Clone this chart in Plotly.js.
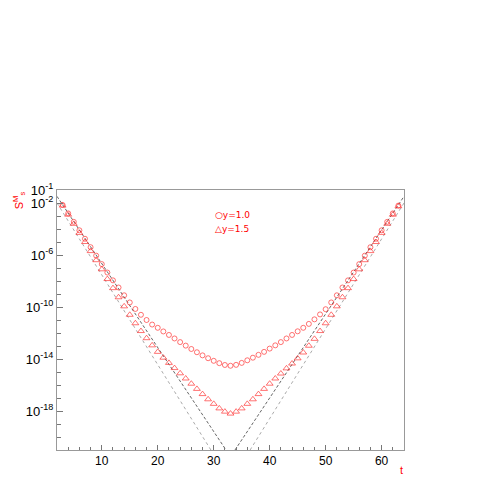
<!DOCTYPE html>
<html>
<head>
<meta charset="utf-8">
<script src="https://cdn.plot.ly/plotly-3.0.1.min.js"></script>
<style>
  html, body { margin: 0; padding: 0; background: #fff; }
  #chart { width: 485px; height: 485px; }
</style>
</head>
<body>
<div id="chart"></div>
<script>
// time slices
const tValues = [3, 4, 5, 6, 7, 8, 9, 10, 11, 12, 13, 14, 15, 16, 17, 18, 19, 20, 21, 22,
    23, 24, 25, 26, 27, 28, 29, 30, 31, 32, 33, 34, 35, 36, 37, 38, 39, 40, 41, 42,
    43, 44, 45, 46, 47, 48, 49, 50, 51, 52, 53, 54, 55, 56, 57, 58, 59, 60, 61, 62, 63];

// log10 of the correlator
const circleLog = [-2.15, -2.8, -3.45, -4.1, -4.75, -5.4, -6.05, -6.7, -7.35, -7.95,
    -8.5, -9.1, -9.65, -10.15, -10.6, -11.0, -11.35, -11.6, -11.88, -12.15,
    -12.42, -12.7, -12.97, -13.23, -13.48, -13.72, -13.94, -14.14, -14.32, -14.46,
    -14.52, -14.45, -14.3, -14.1, -13.9, -13.68, -13.45, -13.2, -12.95, -12.7,
    -12.42, -12.15, -11.87, -11.6, -11.3, -10.95, -10.57, -10.17, -9.65, -9.1,
    -8.5, -7.95, -7.35, -6.7, -6.05, -5.4, -4.75, -4.1, -3.45, -2.8, -2.2];

const triangleLog = [-2.2, -2.9, -3.6, -4.3, -5.0, -5.7, -6.4, -7.1, -7.85, -8.55,
    -9.25, -9.95, -10.6, -11.25, -11.85, -12.4, -12.95, -13.45, -13.9, -14.3,
    -14.7, -15.1, -15.5, -15.9, -16.3, -16.7, -17.1, -17.45, -17.8, -18.05,
    -18.2, -18.05, -17.8, -17.45, -17.1, -16.7, -16.3, -15.9, -15.5, -15.12,
    -14.72, -14.35, -13.95, -13.5, -12.98, -12.45, -11.85, -11.25, -10.6, -9.95,
    -9.25, -8.55, -7.85, -7.1, -6.4, -5.7, -5.0, -4.3, -3.6, -2.9, -2.25];

// single exponential guide lines (two branches each)
const dashT = [2, 32.2, null, 33.8, 64];
const dashLog = [-1.49, -21, null, -21, -1.49];
const dotT = [2, 29.5, null, 36.5, 64];
const dotLog = [-2.0, -21, null, -21, -2.0];

const yTickVals = [1e-1, 1e-2, 1e-6, 1e-10, 1e-14, 1e-18];
const yTickText = ['10<sup>-1</sup>', '10<sup>-2</sup>', '10<sup>-6</sup>',
    '10<sup>-10</sup>', '10<sup>-14</sup>', '10<sup>-18</sup>'];
const yDecades = [1e-2, 1e-3, 1e-4, 1e-5, 1e-6, 1e-7, 1e-8, 1e-9, 1e-10, 1e-11, 1e-12,
    1e-13, 1e-14, 1e-15, 1e-16, 1e-17, 1e-18, 1e-19, 1e-20];

const toLinear = arr => arr.map(v => v === null ? null : Math.pow(10, v));

const red = '#ff0000';
const markerRed = 'rgba(255,40,40,0.65)';

const traces = [
    {
        x: dotT, y: toLinear(dotLog),
        mode: 'lines', type: 'scatter', connectgaps: false,
        line: { color: '#aaaaaa', width: 1, dash: 'dot' },
        hoverinfo: 'skip'
    },
    {
        x: dashT, y: toLinear(dashLog),
        mode: 'lines', type: 'scatter', connectgaps: false,
        line: { color: '#666666', width: 1, dash: '3px,2px' },
        hoverinfo: 'skip'
    },
    {
        x: tValues, y: toLinear(circleLog),
        mode: 'markers', type: 'scatter', name: 'y=1.0',
        marker: { symbol: 'circle-open', size: 5, color: markerRed, line: { width: 1, color: markerRed } }
    },
    {
        x: tValues, y: toLinear(triangleLog),
        mode: 'markers', type: 'scatter', name: 'y=1.5',
        marker: { symbol: 'triangle-up-open', size: 6, color: markerRed, line: { width: 1, color: markerRed } }
    }
];

const axisFont = { family: 'Liberation Sans, Arial, sans-serif', size: 12, color: '#000' };

const layout = {
    width: 485,
    height: 485,
    margin: { l: 57, r: 81, t: 190, b: 35 },
    paper_bgcolor: '#fff',
    plot_bgcolor: '#fff',
    showlegend: false,
    xaxis: {
        range: [2, 64],
        tickmode: 'linear', tick0: 0, dtick: 10,
        ticks: 'inside', ticklen: 5, tickcolor: '#777',
        minor: { tickmode: 'linear', tick0: 0, dtick: 2, ticks: 'inside', ticklen: 3, tickcolor: '#777' },
        showgrid: false, zeroline: false,
        showline: true, mirror: true, linecolor: '#999', linewidth: 1,
        tickfont: axisFont
    },
    yaxis: {
        type: 'log',
        range: [-21, -1],
        tickmode: 'array', tickvals: yTickVals, ticktext: yTickText,
        ticks: 'inside', ticklen: 6, tickcolor: '#777',
        minor: { tickmode: 'array', tickvals: yDecades, ticks: 'inside', ticklen: 4, tickcolor: '#777' },
        showgrid: false, zeroline: false,
        showline: true, mirror: true, linecolor: '#999', linewidth: 1,
        tickfont: { family: 'Liberation Sans, Arial, sans-serif', size: 13, color: '#000' }
    },
    annotations: [
        {
            text: 'S<sup>M</sup><sub>s</sub>', textangle: -90,
            xref: 'paper', yref: 'paper', x: -0.107, y: 0.96,
            xanchor: 'center', yanchor: 'middle', showarrow: false,
            font: { family: 'Liberation Sans, Arial, sans-serif', size: 11, color: red }
        },
        {
            text: 't',
            xref: 'paper', yref: 'paper', x: 0.994, y: -0.077,
            xanchor: 'center', yanchor: 'middle', showarrow: false,
            font: { family: 'Liberation Sans, Arial, sans-serif', size: 11, color: red }
        },
        {
            text: '○y=1.0',
            xref: 'paper', yref: 'paper', x: 0.449, y: 0.904,
            xanchor: 'left', yanchor: 'middle', showarrow: false,
            font: { family: 'DejaVu Sans, sans-serif', size: 9, color: red }
        },
        {
            text: '△y=1.5',
            xref: 'paper', yref: 'paper', x: 0.449, y: 0.849,
            xanchor: 'left', yanchor: 'middle', showarrow: false,
            font: { family: 'DejaVu Sans, sans-serif', size: 9, color: red }
        }
    ]
};

Plotly.newPlot('chart', traces, layout, { displayModeBar: false, staticPlot: true });
</script>
</body>
</html>
